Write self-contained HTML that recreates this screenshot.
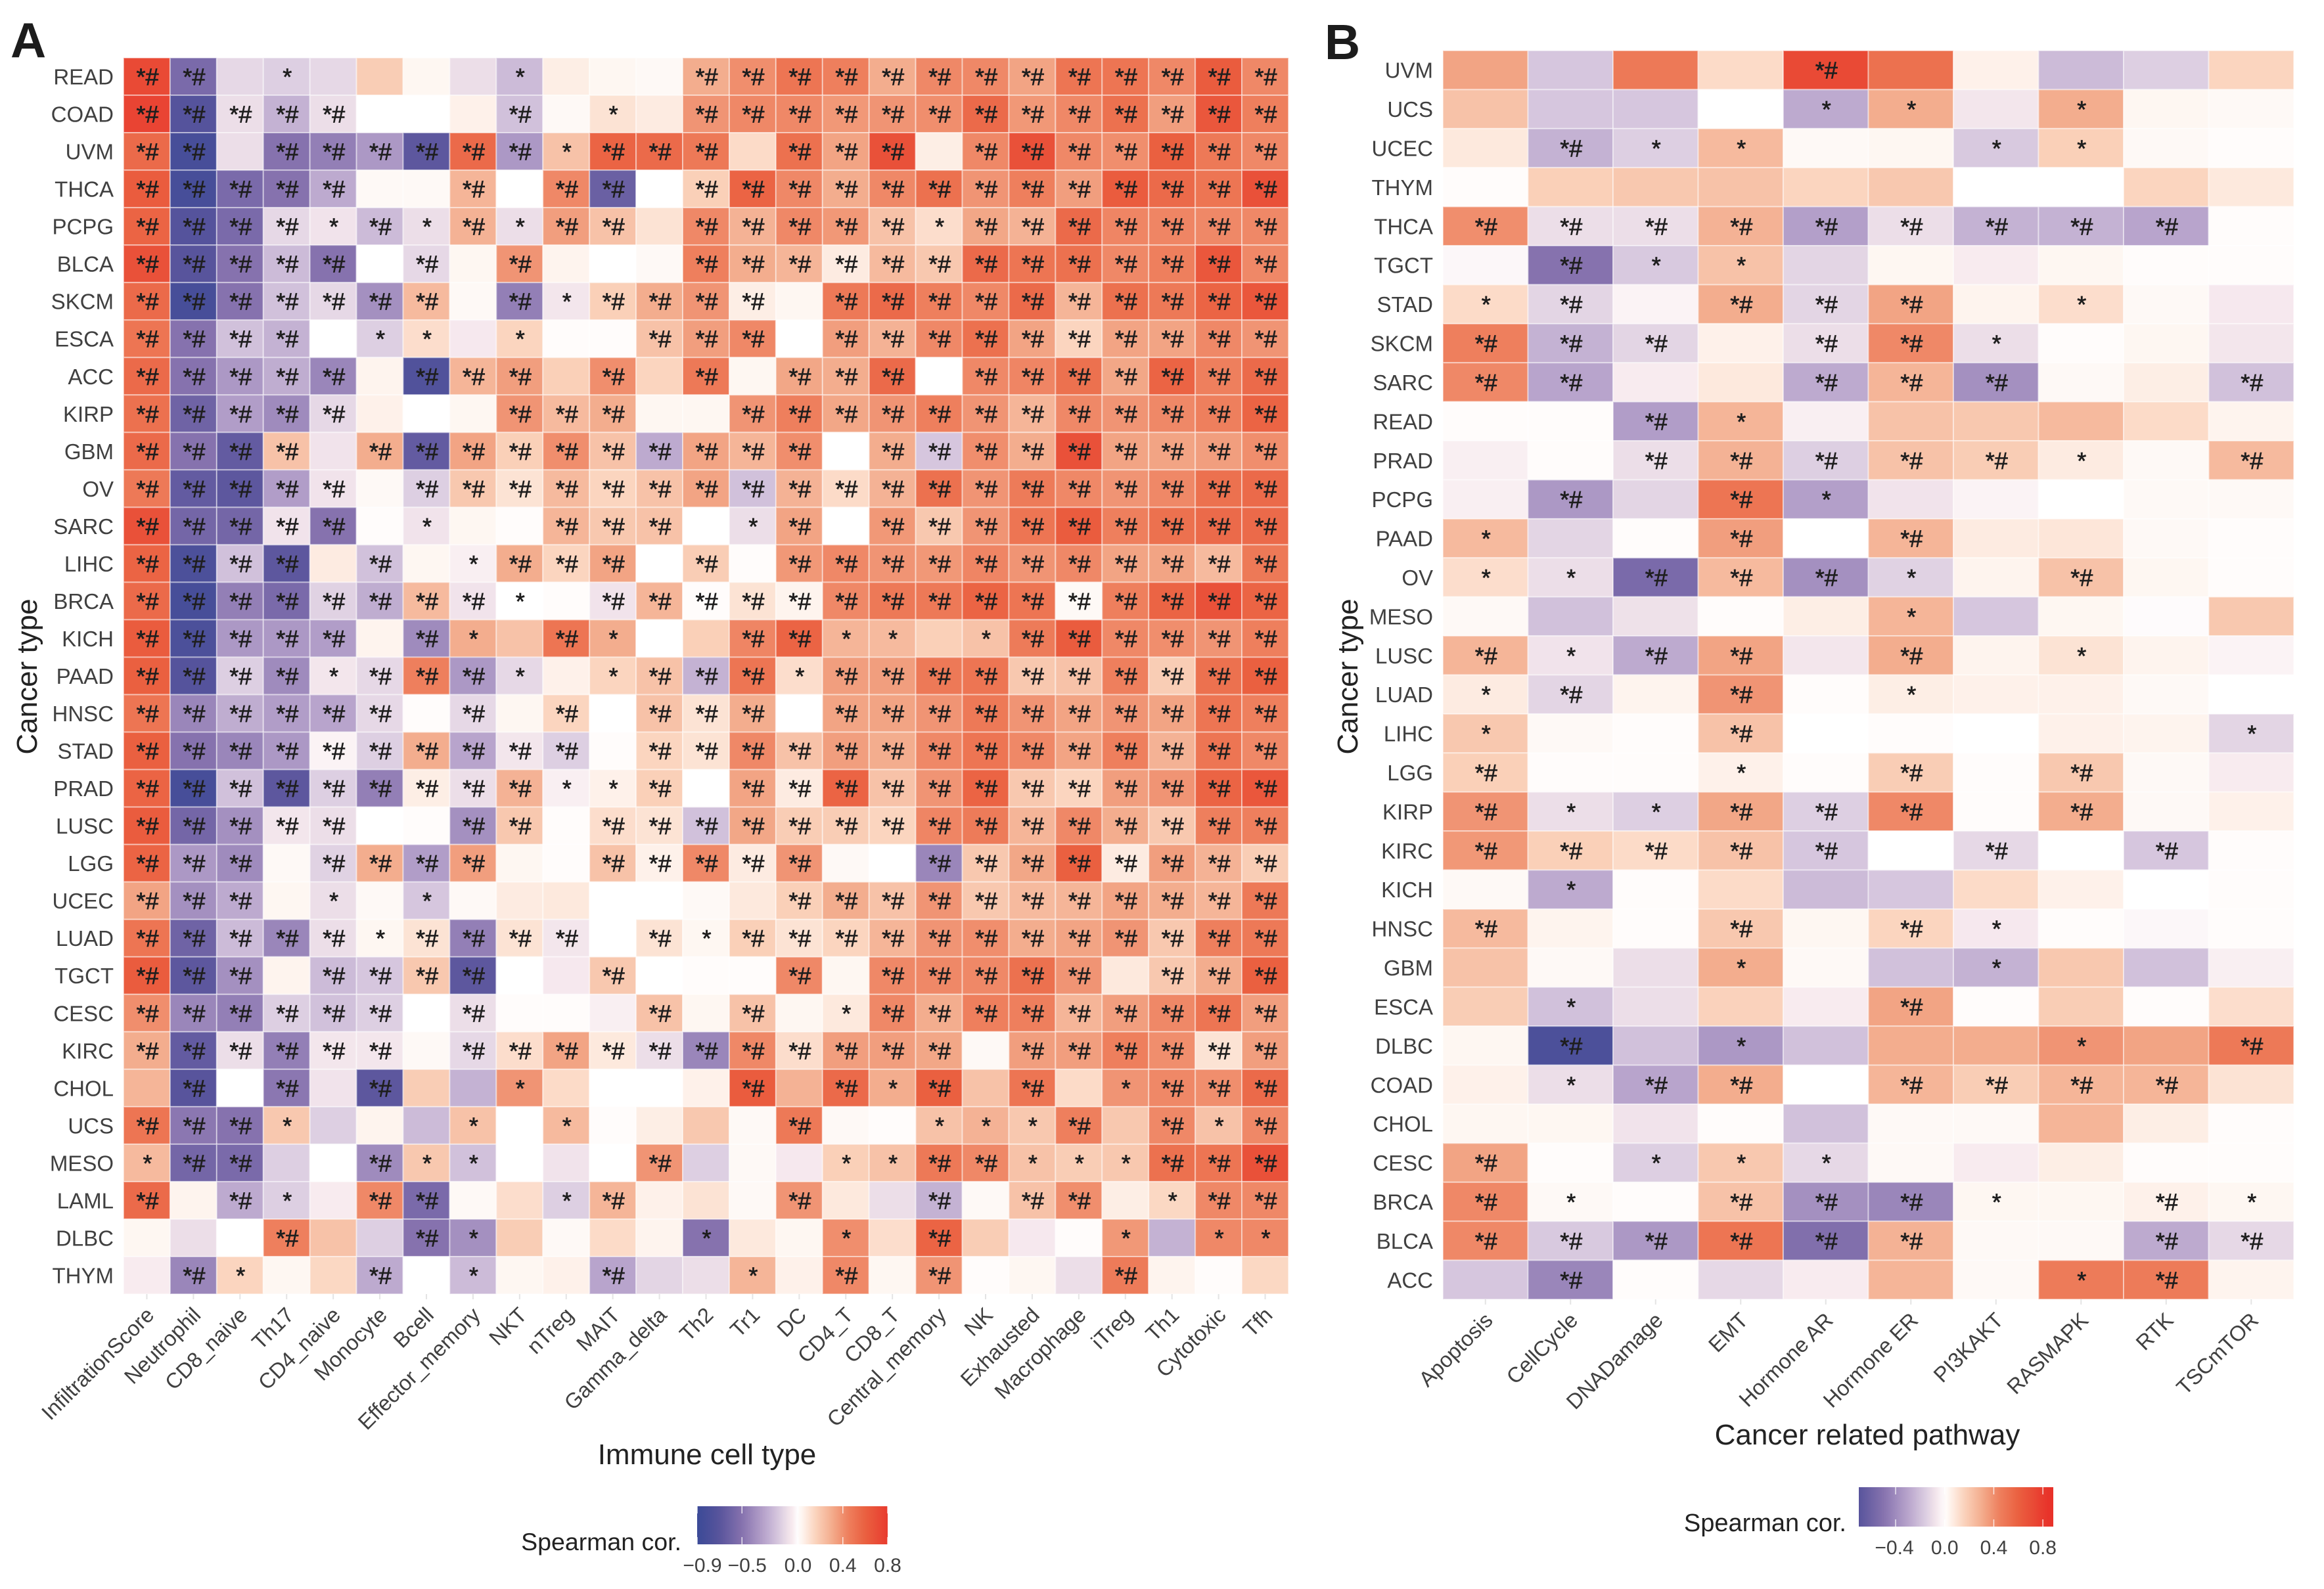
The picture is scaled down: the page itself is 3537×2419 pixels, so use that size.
<!DOCTYPE html>
<html lang="en">
<head>
<meta charset="utf-8">
<title>Spearman correlation heatmaps</title>
<style>
html,body{margin:0;padding:0;background:#fff}
svg{display:block;font-family:"Liberation Sans",sans-serif}
</style>
</head>
<body>
<svg id="figure" xmlns="http://www.w3.org/2000/svg" width="3537" height="2419" viewBox="0 0 3537 2419">
  <rect width="3537" height="2419" fill="#fff"/>
  <text x="16" y="87" font-size="75" font-weight="700" fill="#1c1c1c">A</text>
  <text x="2016" y="90" font-size="75" font-weight="700" fill="#1c1c1c">B</text>
  <text transform="translate(56,1030) rotate(-90)" text-anchor="middle" font-size="44" fill="#222">Cancer type</text>
  <text transform="translate(2066,1030) rotate(-90)" text-anchor="middle" font-size="44" fill="#222">Cancer type</text>
  <text x="1076" y="2229" text-anchor="middle" font-size="44" fill="#222">Immune cell type</text>
  <text x="2842" y="2199" text-anchor="middle" font-size="44" fill="#222">Cancer related pathway</text>
  <text x="1037" y="2360" text-anchor="end" font-size="37.5" fill="#222">Spearman cor.</text>
  <text x="2810" y="2331" text-anchor="end" font-size="38" fill="#222">Spearman cor.</text>
  <g id="panel-a"></g>
  <g id="panel-b"></g>
  <g id="legend-a"></g>
  <g id="legend-b"></g>
</svg>
<script>
const immuneCancers = ["READ","COAD","UVM","THCA","PCPG","BLCA","SKCM","ESCA","ACC","KIRP","GBM","OV","SARC","LIHC","BRCA","KICH","PAAD","HNSC","STAD","PRAD","LUSC","LGG","UCEC","LUAD","TGCT","CESC","KIRC","CHOL","UCS","MESO","LAML","DLBC","THYM"];
const immuneCells = ["InfiltrationScore","Neutrophil","CD8_naive","Th17","CD4_naive","Monocyte","Bcell","Effector_memory","NKT","nTreg","MAIT","Gamma_delta","Th2","Tr1","DC","CD4_T","CD8_T","Central_memory","NK","Exhausted","Macrophage","iTreg","Th1","Cytotoxic","Tfh"];
const immuneValues = [
[.72,-.55,-.12,-.15,-.12,.18,.03,-.1,-.22,.06,.03,.02,.3,.4,.5,.45,.3,.42,.42,.33,.5,.5,.42,.62,.42],
[.75,-.72,-.1,-.25,-.1,0,0,.05,-.2,.02,.1,.07,.38,.42,.42,.37,.38,.4,.55,.37,.42,.52,.35,.65,.45],
[.55,-.82,-.1,-.5,-.45,-.35,-.68,.55,-.35,.22,.58,.55,.48,.13,.52,.33,.68,.06,.42,.68,.42,.4,.6,.48,.42],
[.62,-.82,-.55,-.5,-.28,.02,.02,.27,0,.42,-.62,0,.17,.58,.42,.3,.42,.52,.38,.45,.35,.62,.55,.5,.68],
[.58,-.72,-.55,-.12,-.08,-.22,-.1,.28,-.1,.35,.22,.1,.42,.28,.42,.37,.22,.12,.32,.28,.55,.43,.43,.42,.42],
[.68,-.7,-.5,-.22,-.5,0,-.12,.03,.38,.04,0,.02,.45,.3,.27,.07,.25,.2,.55,.5,.52,.42,.45,.65,.42],
[.55,-.82,-.5,-.2,-.12,-.38,.25,.02,-.45,-.07,.17,.3,.38,.06,.03,.48,.55,.45,.42,.55,.27,.52,.48,.58,.65],
[.5,-.5,-.2,-.25,0,-.15,.12,-.06,.15,.01,.01,.22,.35,.42,0,.35,.28,.42,.52,.33,.15,.33,.33,.42,.38],
[.55,-.5,-.35,-.27,-.42,.04,-.75,.27,.35,.17,.4,.15,.48,.03,.32,.3,.55,0,.42,.43,.52,.32,.58,.45,.55],
[.52,-.6,-.33,-.4,-.12,.05,0,.03,.38,.25,.3,.03,.03,.38,.45,.32,.38,.45,.38,.27,.42,.38,.42,.45,.58],
[.55,-.5,-.65,.22,-.08,.3,-.65,.33,.17,.4,.22,-.28,.33,.27,.4,0,.3,-.18,.4,.3,.68,.33,.33,.35,.4],
[.48,-.65,-.68,-.33,-.08,.02,-.15,.2,.1,.25,.15,.22,.33,-.2,.28,.13,.28,.52,.38,.47,.42,.38,.42,.52,.55],
[.68,-.58,-.58,-.08,-.5,.01,-.08,.03,.01,.27,.2,.22,0,-.1,.33,0,.37,.2,.38,.5,.62,.45,.52,.55,.55],
[.58,-.78,-.2,-.68,.07,-.2,.03,-.04,.3,.15,.33,0,.18,.01,.37,.42,.38,.37,.43,.38,.42,.33,.33,.25,.48],
[.55,-.82,-.45,-.55,-.14,-.27,.25,-.08,0,.01,-.08,.27,.01,.1,.04,.42,.48,.48,.58,.5,.02,.45,.58,.68,.58],
[.62,-.78,-.35,-.35,-.33,.04,-.4,.3,.22,.5,.3,0,.17,.43,.58,.27,.25,.17,.22,.47,.62,.42,.4,.38,.45],
[.6,-.72,-.15,-.4,-.07,-.12,.45,-.35,-.12,.05,.15,.22,-.25,.5,.12,.35,.35,.48,.5,.2,.22,.45,.18,.52,.6],
[.5,-.42,-.27,-.33,-.3,-.12,.01,-.12,.03,.15,0,.22,.1,.3,0,.33,.33,.38,.48,.38,.33,.38,.33,.5,.45],
[.6,-.5,-.42,-.35,-.03,-.15,.3,-.3,-.07,-.15,.01,.15,.1,.42,.22,.35,.3,.42,.5,.42,.33,.45,.28,.5,.42],
[.58,-.82,-.2,-.68,-.15,-.45,.06,-.1,.28,-.04,.05,.17,0,.33,.07,.58,.22,.38,.58,.2,.15,.35,.38,.58,.65],
[.62,-.58,-.38,-.07,-.1,0,.01,-.38,.2,.01,.12,.1,-.2,.32,.18,.18,.15,.43,.47,.27,.42,.3,.2,.45,.45],
[.58,-.35,-.4,.02,-.14,.3,-.33,.35,.03,.01,.22,.05,.42,.07,.38,.02,0,-.42,.2,.32,.6,.07,.35,.28,.18],
[.33,-.38,-.28,.03,-.1,.02,-.18,.02,.07,.08,0,0,.02,.08,.17,.3,.22,.38,.2,.25,.27,.33,.3,.27,.48],
[.5,-.6,-.22,-.42,-.1,.03,.1,-.45,.1,-.07,0,.1,.03,.17,.1,.15,.27,.38,.4,.3,.33,.38,.2,.45,.48],
[.62,-.68,-.38,.04,-.22,-.18,.2,-.68,0,-.06,.2,0,.01,.01,.42,.03,.42,.42,.42,.52,.38,.08,.2,.3,.6],
[.4,-.42,-.45,-.15,-.2,-.15,0,-.1,.01,.01,-.04,.22,.03,.22,.03,.08,.42,.3,.45,.45,.27,.35,.42,.5,.35],
[.3,-.65,-.1,-.45,-.07,-.07,.02,-.12,.12,.33,.08,-.1,-.42,.42,.12,.35,.35,.32,.02,.35,.35,.45,.4,.1,.35],
[.27,-.7,0,-.48,-.08,-.68,.18,-.25,.38,.13,0,0,.05,.62,.28,.55,.3,.6,.22,.5,.13,.38,.42,.4,.55],
[.5,-.48,-.5,.2,-.15,.04,-.22,.22,0,.25,.01,.06,.2,.02,.48,.02,.01,.22,.28,.2,.45,.2,.42,.22,.42],
[.25,-.58,-.55,-.15,0,-.4,.2,-.2,0,-.08,0,.38,-.15,.02,-.06,.17,.22,.48,.42,.22,.18,.2,.52,.5,.68],
[.55,.04,-.28,-.15,-.05,.42,-.55,.02,.12,-.15,.27,.05,.1,.02,.38,.08,-.1,-.25,.02,.22,.4,.06,.14,.42,.42],
[.03,-.1,0,.45,.22,-.15,-.5,-.38,.18,.02,.13,.04,-.5,.08,.03,.4,.12,.58,.18,-.06,.01,.37,-.25,.42,.42],
[-.05,-.42,.15,.03,.14,-.28,0,-.22,.03,.05,-.3,-.13,-.1,.27,.05,.42,.03,.38,.01,.03,-.1,.47,.04,.01,.14]
];
const immuneSignif = [
"hh.s....s...hhhhhhhhhhhhh","hhhhh...h.s.hhhhhhhhhhhhh","hh.hhhhhhshhh.hhh.hhhhhhh","hhhhh..h.hh.hhhhhhhhhhhhh",
"hhhhshshshh.hhhhhshhhhhhh","hhhhh.h.h...hhhhhhhhhhhhh","hhhhhhh.hshhhh.hhhhhhhhhh","hhhh.ss.s..hhh.hhhhhhhhhh",
"hhhhh.hhh.h.h.hhh.hhhhhhh","hhhhh...hhh..hhhhhhhhhhhh","hhhh.hhhhhhhhhh.hhhhhhhhh","hhhhh.hhhhhhhhhhhhhhhhhhh",
"hhhhh.s..hhh.sh.hhhhhhhhh","hhhh.h.shhh.h.hhhhhhhhhhh","hhhhhhhhs.hhhhhhhhhhhhhhh","hhhhh.hs.hs..hhss.shhhhhh",
"hhhhshhhs.shhhshhhhhhhhhh","hhhhhh.h.h.hhh.hhhhhhhhhh","hhhhhhhhhh.hhhhhhhhhhhhhh","hhhhhhhhhssh.hhhhhhhhhhhh",
"hhhhh..hh.hhhhhhhhhhhhhhh","hhh.hhhh..hhhhh..hhhhhhhh","hhh.s.s.......hhhhhhhhhhh","hhhhhshhhh.hshhhhhhhhhhhh",
"hhh.hhhh..h...h.hhhhh.hhh","hhhhhh.h...h.h.shhhhhhhhh","hhhhhh.hhhhhhhhhhh.hhhhhh",".h.h.h..s....h.hsh.h.shhh",
"hhhs...s.s....h..sssh.hsh","shh..hss...h...sshhssshhh","h.hs.hh..sh...h..h.hh.shh","...h..hs....s..s.h...s.ss",
".hs..h.s..h..s.h.h...h..."
];
const pathwayCancers = ["UVM","UCS","UCEC","THYM","THCA","TGCT","STAD","SKCM","SARC","READ","PRAD","PCPG","PAAD","OV","MESO","LUSC","LUAD","LIHC","LGG","KIRP","KIRC","KICH","HNSC","GBM","ESCA","DLBC","COAD","CHOL","CESC","BRCA","BLCA","ACC"];
const pathways = ["Apoptosis","CellCycle","DNADamage","EMT","Hormone AR","Hormone ER","PI3KAKT","RASMAPK","RTK","TSCmTOR"];
const pathwayValues = [
[.33,-.18,.48,.13,.72,.52,.05,-.22,-.15,.15],
[.22,-.18,-.18,0,-.28,.3,-.07,.3,.03,.02],
[.08,-.25,-.15,.25,.02,.03,-.17,.17,.02,.01],
[.01,.17,.2,.22,.15,.2,0,0,.15,.08],
[.4,-.1,-.1,.28,-.32,-.1,-.25,-.25,-.3,.01],
[-.02,-.5,-.17,.22,-.13,.03,-.05,.03,.01,.01],
[.13,-.13,-.03,.3,-.13,.33,.04,.12,.02,-.06],
[.45,-.25,-.13,.05,-.1,.42,-.1,.01,.03,-.07],
[.42,-.3,-.05,.08,-.28,.27,-.38,.02,.06,-.2],
[.01,.01,-.33,.27,-.04,.22,.2,.25,.13,.04],
[-.04,.01,-.1,.28,-.15,.22,.18,.07,.02,.25],
[-.04,-.35,-.13,.5,-.32,-.08,-.03,0,.02,.02],
[.25,-.13,.01,.35,0,.27,.07,.09,.02,.01],
[.12,-.1,-.55,.25,-.38,-.14,.04,.22,.03,.01],
[.02,-.2,-.09,.01,.06,.27,-.18,.03,-.01,.2],
[.27,-.08,-.28,.33,-.07,.3,.04,.1,.04,-.03],
[.07,-.13,.04,.38,.01,.06,.05,.05,.02,0],
[.2,.02,.01,.22,0,.01,0,.05,.04,-.13],
[.17,.01,.01,.05,.01,.18,.01,.2,.02,-.05],
[.38,-.1,-.15,.32,-.15,.42,.01,.3,.02,.05],
[.37,.17,.13,.22,-.18,0,-.12,0,-.18,.01],
[.02,-.28,.01,.13,-.22,-.18,.13,.05,0,.01],
[.25,.04,.01,.2,.03,.15,-.06,.01,-.02,.01],
[.22,.02,-.1,.3,.02,-.2,-.25,.2,-.2,-.04],
[.18,-.2,-.1,.16,-.05,.33,.01,.18,.01,.12],
[.03,-.78,-.2,-.35,-.2,.3,.3,.38,.33,.48],
[.05,-.1,-.3,.3,0,.27,.18,.27,.27,.1],
[.03,.03,-.08,.01,-.2,.02,.02,.27,.06,.01],
[.33,.01,-.15,.2,-.12,.02,-.05,.06,.01,.01],
[.42,.02,.01,.22,-.38,-.42,.03,.03,.05,.03],
[.42,-.17,-.35,.5,-.52,.28,.02,.02,-.28,-.12],
[-.18,-.42,.01,-.12,-.05,.27,.02,.47,.47,.04]
];
const pathwaySignif = [
"....h.....","....ss.s..",".hss..ss..","..........","hhhhhhhhh.",".hss......","sh.hhh.s..","hhh.hhs...",
"hh..hhh..h","..hs......","..hhhhhs.h",".h.hs.....","s..h.h....","sshhhs.h..",".....s....","hshh.h.s..",
"sh.h.s....","s..h.....s","h..s.h.h..","hsshhh.h..","hhhhh.h.h.",".s........","h..h.hs...","...s..s...",
".s...h....",".h.s...s.h",".shh.hhhh.","..........","h.sss.....","hs.hhhs.hs","hhhhhh..hh",".h.....sh."
];
const legendTicksA = [-0.9,-0.5,0,0.4,0.8];
const legendTicksB = [-0.4,0,0.4,0.8];

const NS = "http://www.w3.org/2000/svg";
const colorStops = [
  [-0.9,[59,74,151]],[-0.7,[88,84,156]],[-0.5,[134,114,174]],[-0.3,[184,164,204]],[-0.15,[221,207,226]],[-0.1,[236,222,232]],[-0.05,[248,235,239]],
  [0,[255,255,255]],[0.15,[251,213,191]],[0.3,[243,173,142]],[0.45,[238,127,93]],[0.6,[234,96,64]],[0.85,[232,50,42]]
];
function colorOf(v){
  if(v<=colorStops[0][0]) return "rgb("+colorStops[0][1].join(",")+")";
  for(let i=1;i<colorStops.length;i++){
    if(v<=colorStops[i][0]){
      const a=colorStops[i-1],b=colorStops[i],t=(v-a[0])/(b[0]-a[0]);
      return "rgb("+a[1].map((c,k)=>Math.round(c+(b[1][k]-c)*t)).join(",")+")";
    }
  }
  return "rgb("+colorStops[colorStops.length-1][1].join(",")+")";
}
function make(tag,attrs,parent){
  const el=document.createElementNS(NS,tag);
  for(const k in attrs) el.setAttribute(k,attrs[k]);
  parent.appendChild(el);
  return el;
}
function drawHeatmap(root,prefix,rows,cols,values,signif,box){
  const cw=(box.right-box.left)/cols.length, ch=(box.bottom-box.top)/rows.length;
  const xScale=i=>box.left+i*cw, yScale=i=>box.top+i*ch;
  rows.forEach((rowName,r)=>{
    const lab=make("text",{x:box.left-15,y:yScale(r)+ch/2+12,"text-anchor":"end","font-size":33,fill:"#404040"},root);
    
    
    lab.textContent=rowName;
    cols.forEach((colName,c)=>{
      const cell=make("rect",{x:xScale(c),y:yScale(r),width:cw,height:ch,fill:colorOf(values[r][c]),stroke:"#fff","stroke-opacity":0.45,"stroke-width":2},root);
      
      
    });
  });
  rows.forEach((rowName,r)=>{
    cols.forEach((colName,c)=>{
      const s=signif[r][c];
      if(s==="." ) return;
      const mark=make("text",{x:xScale(c)+cw/2+1,y:yScale(r)+ch/2+13,"text-anchor":"middle","font-size":36,fill:"#1e1e1e",stroke:"#1e1e1e","stroke-width":0.7},root);
      
      
      mark.textContent= s==="h" ? "*#" : "*";
    });
  });
  cols.forEach((colName,c)=>{
    const cx=xScale(c)+cw/2;
    const tick=make("line",{x1:cx,x2:cx,y1:box.bottom,y2:box.bottom+8,stroke:"#e4e4e4","stroke-width":2},root);
    
    
    const ax=cx+13, ay=box.bottom+34;
    const lab=make("text",{transform:"translate("+ax+","+ay+") rotate(-45)","text-anchor":"end","font-size":32.5,fill:"#404040"},root);
    
    
    lab.textContent=colName;
  });
}
function drawLegend(root,id,ticks,box){
  const defs=make("defs",{},root);
  const grad=make("linearGradient",{id:id,x1:0,x2:1,y1:0,y2:0},defs);
  const N=40;
  for(let i=0;i<=N;i++){
    const v=box.min+(box.max-box.min)*i/N;
    make("stop",{offset:(i/N),"stop-color":colorOf(v)},grad);
  }
  const bar=make("rect",{x:box.left,y:box.top,width:box.right-box.left,height:box.bottom-box.top,fill:"url(#"+id+")"},root);
  
  
  const legX=v=>box.left+(v-box.min)/(box.max-box.min)*(box.right-box.left);
  ticks.forEach(v=>{
    const x=legX(v);
    const t1=make("line",{x1:x,x2:x,y1:box.top,y2:box.top+11,stroke:"#fff","stroke-width":1.5,"stroke-opacity":0.8},root);
    
    
    const t2=make("line",{x1:x,x2:x,y1:box.bottom-11,y2:box.bottom,stroke:"#fff","stroke-width":1.5,"stroke-opacity":0.8},root);
    
    
    const off=v<0?box.negOffset:0;
    const lab=make("text",{x:x+off,y:box.labelY,"text-anchor":"middle","font-size":30,fill:"#404040"},root);
    
    
    lab.textContent=(v<0?"\u2212":"")+Math.abs(v).toFixed(1);
  });
}
drawHeatmap(document.getElementById("panel-a"),"a",immuneCancers,immuneCells,immuneValues,immuneSignif,{left:188,right:1961,top:88,bottom:1970});
drawHeatmap(document.getElementById("panel-b"),"b",pathwayCancers,pathways,pathwayValues,pathwaySignif,{left:2196,right:3491,top:77,bottom:1978});
drawLegend(document.getElementById("legend-a"),"grad-a",legendTicksA,{left:1061,right:1351,top:2293,bottom:2351,min:-0.9,max:0.8,labelY:2393,negOffset:8});
drawLegend(document.getElementById("legend-b"),"grad-b",legendTicksB,{left:2829,right:3125,top:2264,bottom:2324,min:-0.7,max:0.885,labelY:2366,negOffset:-2});
</script>
</body>
</html>
